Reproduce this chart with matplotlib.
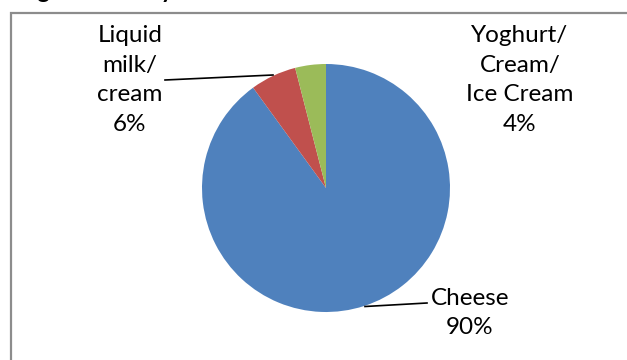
import matplotlib
matplotlib.use("Agg")
import matplotlib.pyplot as plt
from matplotlib.patches import Rectangle

categories = ["Cheese", "Liquid\nmilk/\ncream", "Yoghurt/\nCream/\nIce Cream"]
values = [90, 6, 4]
colors = ["#4F81BD", "#C0504D", "#9BBB59"]

W, H = 627, 360
fig = plt.figure(figsize=(W / 100, H / 100), dpi=100)
ax = fig.add_axes([0, 0, 1, 1])
ax.set_xlim(0, W)
ax.set_ylim(0, H)
ax.set_aspect("equal")
ax.axis("off")

def Y(y):
    return H - y

font = "Lato"
fs = 17.5

# chart frame
ax.add_patch(Rectangle((11, Y(400)), 700, 387, fill=False, edgecolor="#8c8c8c",
                       linewidth=1.6, zorder=1))

# partially visible title above the frame
ax.text(18, Y(-2.3), "Figure 3: Dairy", fontsize=17, fontweight="bold",
        family=font, ha="left", va="baseline", color="black")

wedges, _ = ax.pie(values, colors=colors, startangle=90, counterclock=False,
                   center=(326, Y(188)), radius=124, frame=True,
                   wedgeprops=dict(linewidth=0))
ax.set_xlim(0, W)
ax.set_ylim(0, H)
ax.axis("off")

labels = [f"{c}\n{v}%" for c, v in zip(categories, values)]
pos = [(470, 313), (130, 80), (520, 80)]
for lab, (x, y) in zip(labels, pos):
    ax.text(x, Y(y), lab, fontsize=fs, family=font, ha="center", va="center",
            linespacing=1.5, color="black")

# leader lines
ax.plot([165, 273], [Y(80), Y(75)], color="black", lw=1.2)
ax.plot([365, 427], [Y(306.5), Y(303)], color="black", lw=1.2)

fig.savefig("out.png", dpi=100)
